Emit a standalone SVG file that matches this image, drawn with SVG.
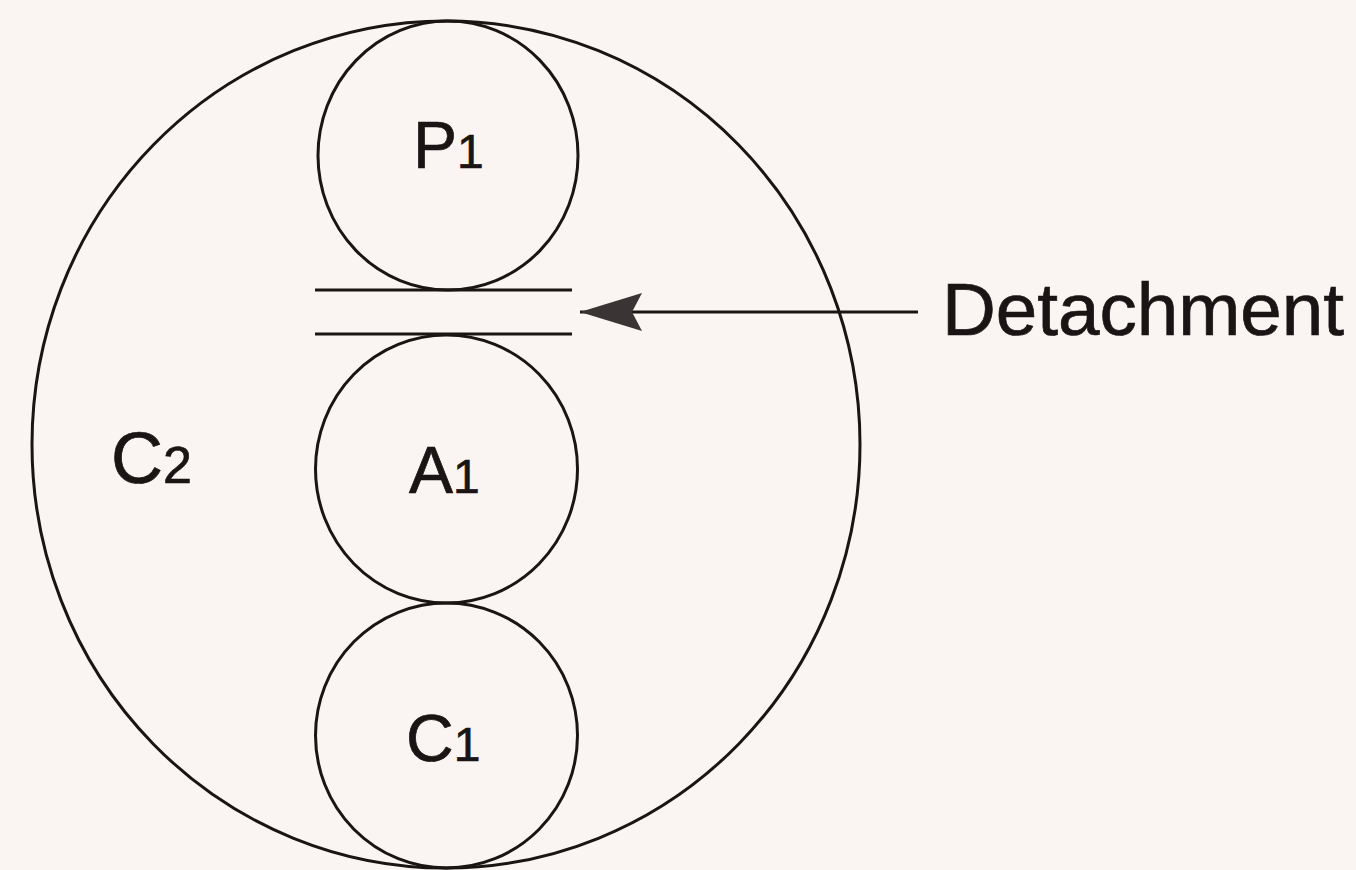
<svg xmlns="http://www.w3.org/2000/svg" width="1356" height="870" viewBox="0 0 1356 870">
<style>
.s{fill:none;stroke:#1a1414;stroke-width:3}
.t{font-family:"Liberation Sans",Arial,sans-serif;fill:#1a1414;stroke:#1a1414;stroke-width:0.7}
</style>
<defs>
<marker id="ah" markerUnits="userSpaceOnUse" markerWidth="70" markerHeight="50" refX="62" refY="20" orient="auto">
<path d="M62,20 L0,1 L10,20 L0,39 Z" fill="#3a3434"/>
</marker>
</defs>
<rect width="1356" height="870" fill="#faf5f3"/>
<g id="C2"><ellipse class="s" cx="446" cy="444.5" rx="414" ry="423.5"/>
<text class="t" x="111" y="483" font-size="72">C<tspan font-size="52">2</tspan></text></g>
<g id="P1"><ellipse class="s" cx="448" cy="155.5" rx="130" ry="134.5"/>
<text class="t" x="413" y="168" font-size="66">P<tspan font-size="48">1</tspan></text></g>
<g id="A1"><ellipse class="s" cx="446.5" cy="469" rx="131" ry="134"/>
<text class="t" x="409" y="493" font-size="66">A<tspan font-size="48">1</tspan></text></g>
<g id="C1"><ellipse class="s" cx="446.5" cy="735.5" rx="131" ry="132.5"/>
<text class="t" x="406" y="761" font-size="66">C<tspan font-size="48">1</tspan></text></g>
<g id="detachment"><line class="s" x1="315" y1="290" x2="572" y2="290"/><line class="s" x1="315" y1="334" x2="572" y2="334"/>
<text class="t" x="942" y="335" font-size="74" textLength="402" lengthAdjust="spacingAndGlyphs">Detachment</text></g>
<g id="connectors"><line class="s" x1="918" y1="312" x2="580" y2="312" marker-end="url(#ah)"/></g>
</svg>
